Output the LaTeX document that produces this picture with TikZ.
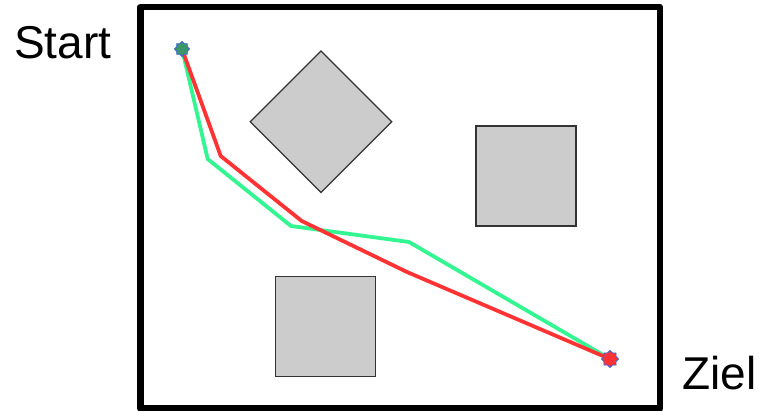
\documentclass[tikz,border=0pt]{standalone}
\usepackage{fontspec}
\setmainfont{Liberation Sans}
\usetikzlibrary{shapes.geometric}
\definecolor{pathgreen}{RGB}{51,245,145}
\definecolor{pathred}{RGB}{255,51,51}
\definecolor{obst}{RGB}{204,204,204}
\definecolor{startfill}{RGB}{60,150,105}
\definecolor{markline}{RGB}{60,100,210}
\tikzset{
  obstacle/.style={fill=obst, draw=black!80, line width=1.2pt},
  route/.style={line width=3.8pt, line join=miter},
  marker/.style={star, star points=8, star point ratio=1.3, minimum size=15pt, inner sep=0pt, draw=markline, line width=0.8pt},
  label/.style={font=\fontsize{46}{50}\selectfont, inner sep=0pt, anchor=base west}
}
\begin{document}
\begin{tikzpicture}[x=1pt,y=-1pt]
\useasboundingbox (0,0) rectangle (759,411);
\draw[line width=6.5pt, line join=round] (140.5,7) rectangle (659.8,408.5);
\node[obstacle, diamond, minimum size=142pt, inner sep=0pt] (obA) at (321,121.7) {};
\node[obstacle, rectangle, minimum size=100pt, inner sep=0pt] (obB) at (526,176) {};
\node[obstacle, rectangle, minimum size=100pt, inner sep=0pt] (obC) at (325.3,326.3) {};
\coordinate (s) at (182,49);
\coordinate (z) at (610,359);
\coordinate (g1) at (207.7,159);
\coordinate (g2) at (291,226);
\coordinate (g3) at (409,242);
\coordinate (r1) at (220.7,156);
\coordinate (r2) at (301.7,221);
\coordinate (r3) at (407,272);
\draw[route, pathgreen] (s) -- (g1) -- (g2) -- (g3) -- (z);
\draw[route, pathred] (s) -- (r1) -- (r2) -- (r3) -- (z);
\node[marker, fill=startfill] (start) at (s) {};
\node[marker, fill=pathred, minimum size=17pt] (ziel) at (z) {};
\node[label] (tstart) at (14,59) {Start};
\node[label] (tziel) at (682,389) {Ziel};
\end{tikzpicture}
\end{document}
